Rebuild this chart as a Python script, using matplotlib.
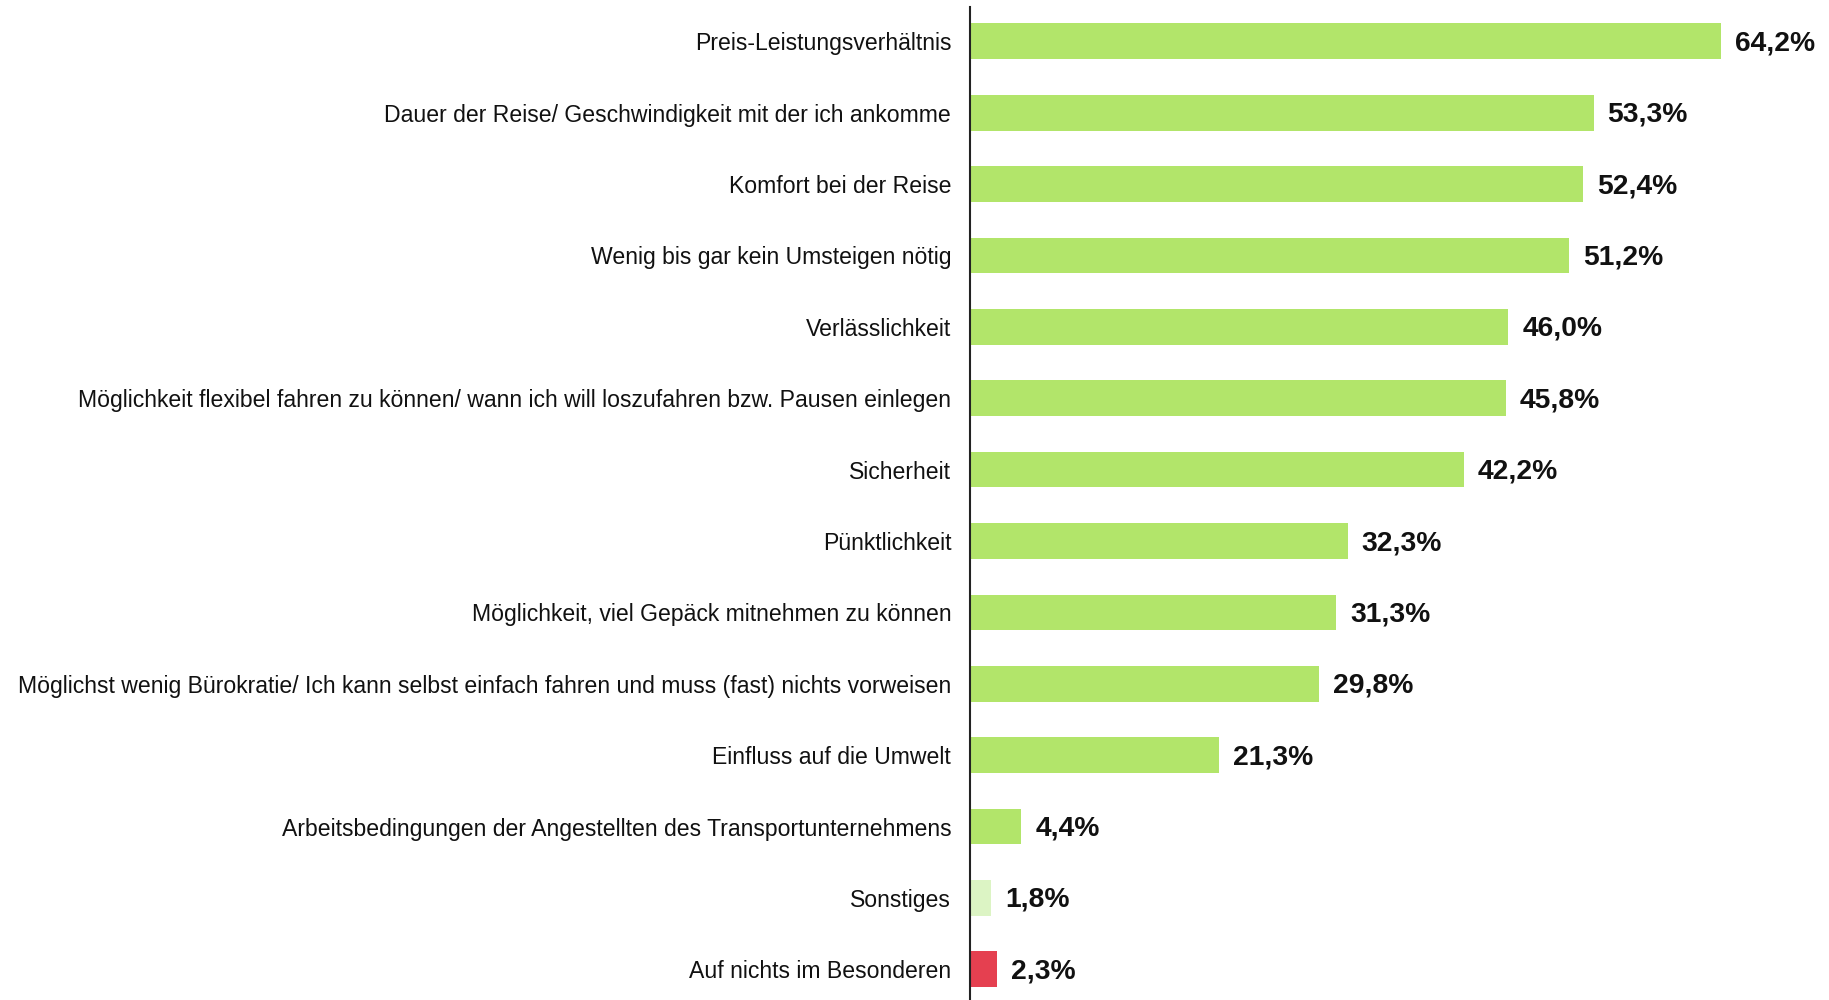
import matplotlib
matplotlib.use("Agg")
import matplotlib.pyplot as plt

categories = [
    "Preis-Leistungsverhältnis",
    "Dauer der Reise/ Geschwindigkeit mit der ich ankomme",
    "Komfort bei der Reise",
    "Wenig bis gar kein Umsteigen nötig",
    "Verlässlichkeit",
    "Möglichkeit flexibel fahren zu können/ wann ich will loszufahren bzw. Pausen einlegen",
    "Sicherheit",
    "Pünktlichkeit",
    "Möglichkeit, viel Gepäck mitnehmen zu können",
    "Möglichst wenig Bürokratie/ Ich kann selbst einfach fahren und muss (fast) nichts vorweisen",
    "Einfluss auf die Umwelt",
    "Arbeitsbedingungen der Angestellten des Transportunternehmens",
    "Sonstiges",
    "Auf nichts im Besonderen",
]
values = [64.2, 53.3, 52.4, 51.2, 46.0, 45.8, 42.2, 32.3, 31.3, 29.8, 21.3, 4.4, 1.8, 2.3]
colors = ["#b2e56a"] * 12 + ["#dcf4c4", "#e54050"]

plt.rcParams['font.family'] = ['Liberation Sans', 'DejaVu Sans']

fig = plt.figure(figsize=(18.29, 10.0), dpi=100)
ax = fig.add_axes([0.5303, 0.0, 0.4697, 0.993])

y = list(range(len(categories)))
ax.barh(y, values, height=0.5, color=colors)
ax.set_ylim(13.43, -0.48)
ax.set_xlim(0, 73.4)

ax.set_yticks(y)
ax.set_yticklabels(categories, fontsize=16.6, color="#111111")
ax.tick_params(axis="y", length=0, pad=13.5)
ax.set_xticks([])
for s in ["top", "right", "bottom"]:
    ax.spines[s].set_visible(False)
ax.spines["left"].set_color("#222222")
ax.spines["left"].set_linewidth(1.5)

for yi, v in zip(y, values):
    ax.annotate(f"{v:.1f}%".replace(".", ","), xy=(v, yi), xytext=(10, -1.5),
                textcoords="offset points", va="center", ha="left",
                fontsize=20.3, fontweight="bold", color="#111111")

fig.savefig("out.png", dpi=100)
